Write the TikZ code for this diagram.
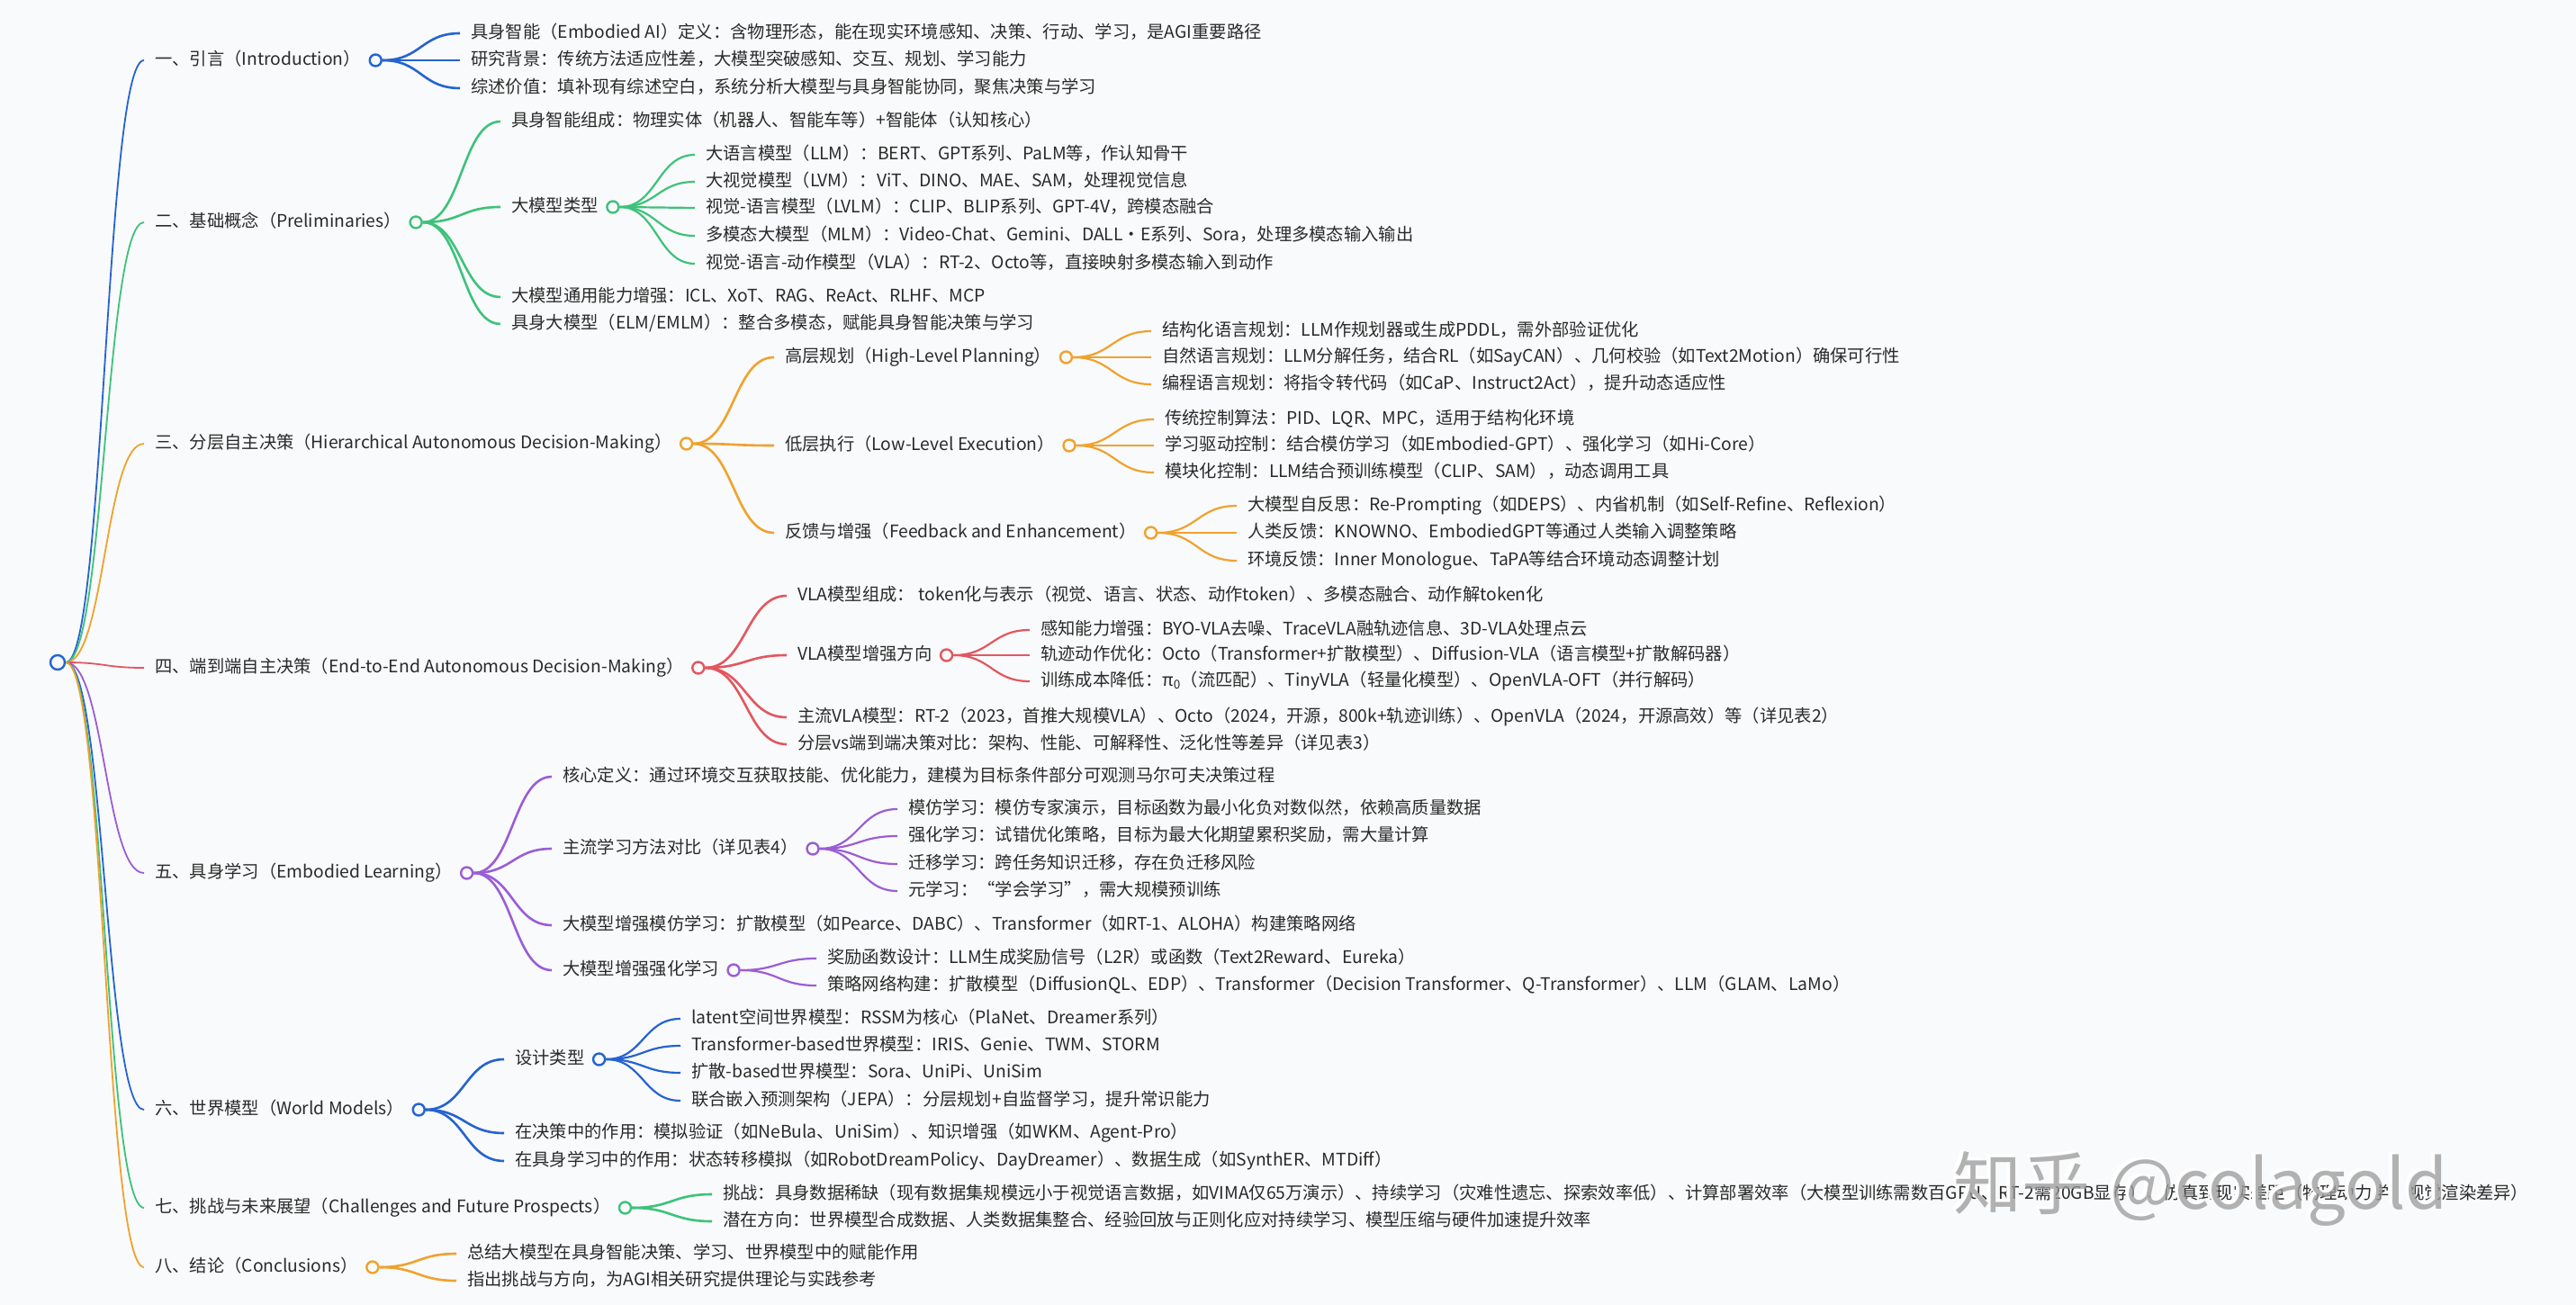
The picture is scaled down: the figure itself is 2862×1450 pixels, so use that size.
\documentclass[tikz,border=0pt]{standalone}
\usepackage{fontspec}
\setmainfont{Noto Sans CJK SC}
\usetikzlibrary{calc}
\definecolor{bg}{HTML}{F9FAFB}
\definecolor{cblue}{HTML}{2563D1}
\definecolor{cgreen}{HTML}{3EC27A}
\definecolor{corange}{HTML}{F0A22E}
\definecolor{cred}{HTML}{E2575F}
\definecolor{cpurple}{HTML}{9B5DD6}
\definecolor{txtc}{HTML}{2A2A2A}
\pgfdeclarelayer{back}
\pgfdeclarelayer{lines}
\pgfsetlayers{back,lines,main}
\newcommand\mmlink[3]{\draw[#1] let \p1=(#2.east), \p2=([xshift=-12pt]#3.west) in (\p1) .. controls ({(\x1+\x2)/2},\y1) and ({(\x1+\x2)/2},\y2) .. (\p2);}
\tikzset{
  tx/.style={anchor=west, inner sep=0pt, text=txtc, font=\fontsize{19.3pt}{23pt}\selectfont, text height=15.5pt, text depth=4pt},
  mmdot/.style={circle, draw=#1, fill=bg, line width=2.4pt, minimum size=13pt, inner sep=0pt},
  lkone/.style={draw=#1, line width=1.8pt},
  lktwo/.style={draw=#1, line width=2.6pt},
  lkthree/.style={draw=#1, line width=2.2pt},
}
\begin{document}
\begin{tikzpicture}[x=1pt,y=-1pt]
\begin{pgfonlayer}{back}
\fill[bg] (0,0) rectangle (2862,1450);
\end{pgfonlayer}
\useasboundingbox (0,0) rectangle (2862,1450);

% root
\node[mmdot=cblue, minimum size=16pt] (root) at (64,736) {};

% level 1
\node[tx] (s1) at (172,67) {一、引言（Introduction）};
\node[tx] (s2) at (172,247) {二、基础概念（Preliminaries）};
\node[tx] (s3) at (172,493) {三、分层自主决策（Hierarchical Autonomous Decision-Making）};
\node[tx] (s4) at (172,742) {四、端到端自主决策（End-to-End Autonomous Decision-Making）};
\node[tx] (s5) at (172,970) {五、具身学习（Embodied Learning）};
\node[tx] (s6) at (172,1233) {六、世界模型（World Models）};
\node[tx] (s7) at (172,1342) {七、挑战与未来展望（Challenges and Future Prospects）};
\node[tx] (s8) at (172,1408) {八、结论（Conclusions）};
\node[mmdot=cblue] (c1) at ([xshift=16pt]s1.east) {};
\node[mmdot=cgreen] (c2) at ([xshift=16pt]s2.east) {};
\node[mmdot=corange] (c3) at ([xshift=16pt]s3.east) {};
\node[mmdot=cred] (c4) at ([xshift=16pt]s4.east) {};
\node[mmdot=cpurple] (c5) at ([xshift=16pt]s5.east) {};
\node[mmdot=cblue] (c6) at ([xshift=16pt]s6.east) {};
\node[mmdot=cgreen] (c7) at ([xshift=16pt]s7.east) {};
\node[mmdot=corange] (c8) at ([xshift=16pt]s8.east) {};

% group 1
\node[tx] (a1) at (523,37) {具身智能（Embodied AI）定义：含物理形态，能在现实环境感知、决策、行动、学习，是AGI重要路径};
\node[tx] (a2) at (523,67) {研究背景：传统方法适应性差，大模型突破感知、交互、规划、学习能力};
\node[tx] (a3) at (523,98) {综述价值：填补现有综述空白，系统分析大模型与具身智能协同，聚焦决策与学习};

% group 2
\node[tx] (b1) at (568,135) {具身智能组成：物理实体（机器人、智能车等）+智能体（认知核心）};
\node[tx] (b2) at (568,230) {大模型类型};
\node[mmdot=cgreen] (cb2) at ([xshift=16pt]b2.east) {};
\node[tx] (b21) at (784,172) {大语言模型（LLM）：BERT、GPT系列、PaLM等，作认知骨干};
\node[tx] (b22) at (784,202) {大视觉模型（LVM）：ViT、DINO、MAE、SAM，处理视觉信息};
\node[tx] (b23) at (784,231) {视觉-语言模型（LVLM）：CLIP、BLIP系列、GPT-4V，跨模态融合};
\node[tx] (b24) at (784,262) {多模态大模型（MLM）：Video-Chat、Gemini、DALL·E系列、Sora，处理多模态输入输出};
\node[tx] (b25) at (784,293) {视觉-语言-动作模型（VLA）：RT-2、Octo等，直接映射多模态输入到动作};
\node[tx] (b3) at (568,330) {大模型通用能力增强：ICL、XoT、RAG、ReAct、RLHF、MCP};
\node[tx] (b4) at (568,360) {具身大模型（ELM/EMLM）：整合多模态，赋能具身智能决策与学习};

% group 3
\node[tx] (d1) at (872,397) {高层规划（High-Level Planning）};
\node[mmdot=corange] (cd1) at ([xshift=16pt]d1.east) {};
\node[tx] (d11) at (1291,368) {结构化语言规划：LLM作规划器或生成PDDL，需外部验证优化};
\node[tx] (d12) at (1291,397) {自然语言规划：LLM分解任务，结合RL（如SayCAN）、几何校验（如Text2Motion）确保可行性};
\node[tx] (d13) at (1291,427) {编程语言规划：将指令转代码（如CaP、Instruct2Act），提升动态适应性};
\node[tx] (d2) at (872,495) {低层执行（Low-Level Execution）};
\node[mmdot=corange] (cd2) at ([xshift=16pt]d2.east) {};
\node[tx] (d21) at (1294,466) {传统控制算法：PID、LQR、MPC，适用于结构化环境};
\node[tx] (d22) at (1294,495) {学习驱动控制：结合模仿学习（如Embodied-GPT）、强化学习（如Hi-Core）};
\node[tx] (d23) at (1294,525) {模块化控制：LLM结合预训练模型（CLIP、SAM），动态调用工具};
\node[tx] (d3) at (872,592) {反馈与增强（Feedback and Enhancement）};
\node[mmdot=corange] (cd3) at ([xshift=16pt]d3.east) {};
\node[tx] (d31) at (1386,562) {大模型自反思：Re-Prompting（如DEPS）、内省机制（如Self-Refine、Reflexion）};
\node[tx] (d32) at (1386,592) {人类反馈：KNOWNO、EmbodiedGPT等通过人类输入调整策略};
\node[tx] (d33) at (1386,623) {环境反馈：Inner Monologue、TaPA等结合环境动态调整计划};

% group 4
\node[tx] (e1) at (886,662) {VLA模型组成：\ token化与表示（视觉、语言、状态、动作token）、多模态融合、动作解token化};
\node[tx] (e2) at (886,728) {VLA模型增强方向};
\node[mmdot=cred] (ce2) at ([xshift=16pt]e2.east) {};
\node[tx] (e21) at (1156,700) {感知能力增强：BYO-VLA去噪、TraceVLA融轨迹信息、3D-VLA处理点云};
\node[tx] (e22) at (1156,728) {轨迹动作优化：Octo（Transformer+扩散模型）、Diffusion-VLA（语言模型+扩散解码器）};
\node[tx] (e23) at (1156,757) {训练成本降低：π\textsubscript{0}（流匹配）、TinyVLA（轻量化模型）、OpenVLA-OFT（并行解码）};
\node[tx] (e3) at (886,797) {主流VLA模型：RT-2（2023，首推大规模VLA）、Octo（2024，开源，800k+轨迹训练）、OpenVLA（2024，开源高效）等（详见表2）};
\node[tx] (e4) at (886,827) {分层vs端到端决策对比：架构、性能、可解释性、泛化性等差异（详见表3）};

% group 5
\node[tx] (f1) at (625,863) {核心定义：通过环境交互获取技能、优化能力，建模为目标条件部分可观测马尔可夫决策过程};
\node[tx] (f2) at (625,943) {主流学习方法对比（详见表4）};
\node[mmdot=cpurple] (cf2) at ([xshift=16pt]f2.east) {};
\node[tx] (f21) at (1009,899) {模仿学习：模仿专家演示，目标函数为最小化负对数似然，依赖高质量数据};
\node[tx] (f22) at (1009,929) {强化学习：试错优化策略，目标为最大化期望累积奖励，需大量计算};
\node[tx] (f23) at (1009,960) {迁移学习：跨任务知识迁移，存在负迁移风险};
\node[tx] (f24) at (1009,990) {元学习：“学会学习”，需大规模预训练};
\node[tx] (f3) at (625,1028) {大模型增强模仿学习：扩散模型（如Pearce、DABC）、Transformer（如RT-1、ALOHA）构建策略网络};
\node[tx] (f4) at (625,1078) {大模型增强强化学习};
\node[mmdot=cpurple] (cf4) at ([xshift=16pt]f4.east) {};
\node[tx] (f41) at (919,1065) {奖励函数设计：LLM生成奖励信号（L2R）或函数（Text2Reward、Eureka）};
\node[tx] (f42) at (919,1095) {策略网络构建：扩散模型（DiffusionQL、EDP）、Transformer（Decision Transformer、Q-Transformer）、LLM（GLAM、LaMo）};

% group 6
\node[tx] (g1) at (572,1177) {设计类型};
\node[mmdot=cblue] (cg1) at ([xshift=16pt]g1.east) {};
\node[tx] (g11) at (768,1132) {latent空间世界模型：RSSM为核心（PlaNet、Dreamer系列）};
\node[tx] (g12) at (768,1162) {Transformer-based世界模型：IRIS、Genie、TWM、STORM};
\node[tx] (g13) at (768,1192) {扩散-based世界模型：Sora、UniPi、UniSim};
\node[tx] (g14) at (768,1223) {联合嵌入预测架构（JEPA）：分层规划+自监督学习，提升常识能力};
\node[tx] (g2) at (572,1259) {在决策中的作用：模拟验证（如NeBula、UniSim）、知识增强（如WKM、Agent-Pro）};
\node[tx] (g3) at (572,1290) {在具身学习中的作用：状态转移模拟（如RobotDreamPolicy、DayDreamer）、数据生成（如SynthER、MTDiff）};

% group 7
\node[tx] (h1) at (803,1327) {挑战：具身数据稀缺（现有数据集规模远小于视觉语言数据，如VIMA仅65万演示）、持续学习（灾难性遗忘、探索效率低）、计算部署效率（大模型训练需数百GPU、RT-2需20GB显存）、仿真到现实差距（物理动力学、视觉渲染差异）};
\node[tx] (h2) at (803,1357) {潜在方向：世界模型合成数据、人类数据集整合、经验回放与正则化应对持续学习、模型压缩与硬件加速提升效率};

% group 8
\node[tx] (k1) at (519,1393) {总结大模型在具身智能决策、学习、世界模型中的赋能作用};
\node[tx] (k2) at (519,1423) {指出挑战与方向，为AGI相关研究提供理论与实践参考};

% watermark
\node[anchor=west, inner sep=0pt, text=white, font=\fontsize{76pt}{84pt}\selectfont] (wmw) at (2166,1318) {知乎\hspace{22pt}@colagold};
\node[anchor=west, inner sep=0pt, text=gray!80, opacity=0.75, font=\fontsize{76pt}{84pt}\selectfont] (wm) at (2170,1321) {知乎\hspace{22pt}@colagold};

% links
\begin{pgfonlayer}{lines}
\mmlink{lkone=cblue}{root}{s1}
\mmlink{lkone=cgreen}{root}{s2}
\mmlink{lkone=corange}{root}{s3}
\mmlink{lkone=cred}{root}{s4}
\mmlink{lkone=cpurple}{root}{s5}
\mmlink{lkone=cblue}{root}{s6}
\mmlink{lkone=cgreen}{root}{s7}
\mmlink{lkone=corange}{root}{s8}
\foreach \w in {a1,a2,a3}{\mmlink{lktwo=cblue}{c1}{\w}}
\foreach \w in {b1,b2,b3,b4}{\mmlink{lktwo=cgreen}{c2}{\w}}
\foreach \w in {b21,b22,b23,b24,b25}{\mmlink{lkthree=cgreen}{cb2}{\w}}
\foreach \w in {d1,d2,d3}{\mmlink{lktwo=corange}{c3}{\w}}
\foreach \w in {d11,d12,d13}{\mmlink{lkthree=corange}{cd1}{\w}}
\foreach \w in {d21,d22,d23}{\mmlink{lkthree=corange}{cd2}{\w}}
\foreach \w in {d31,d32,d33}{\mmlink{lkthree=corange}{cd3}{\w}}
\foreach \w in {e1,e2,e3,e4}{\mmlink{lktwo=cred}{c4}{\w}}
\foreach \w in {e21,e22,e23}{\mmlink{lkthree=cred}{ce2}{\w}}
\foreach \w in {f1,f2,f3,f4}{\mmlink{lktwo=cpurple}{c5}{\w}}
\foreach \w in {f21,f22,f23,f24}{\mmlink{lkthree=cpurple}{cf2}{\w}}
\foreach \w in {f41,f42}{\mmlink{lkthree=cpurple}{cf4}{\w}}
\foreach \w in {g1,g2,g3}{\mmlink{lktwo=cblue}{c6}{\w}}
\foreach \w in {g11,g12,g13,g14}{\mmlink{lkthree=cblue}{cg1}{\w}}
\foreach \w in {h1,h2}{\mmlink{lktwo=cgreen}{c7}{\w}}
\foreach \w in {k1,k2}{\mmlink{lktwo=corange}{c8}{\w}}
\end{pgfonlayer}
\end{tikzpicture}
\end{document}
